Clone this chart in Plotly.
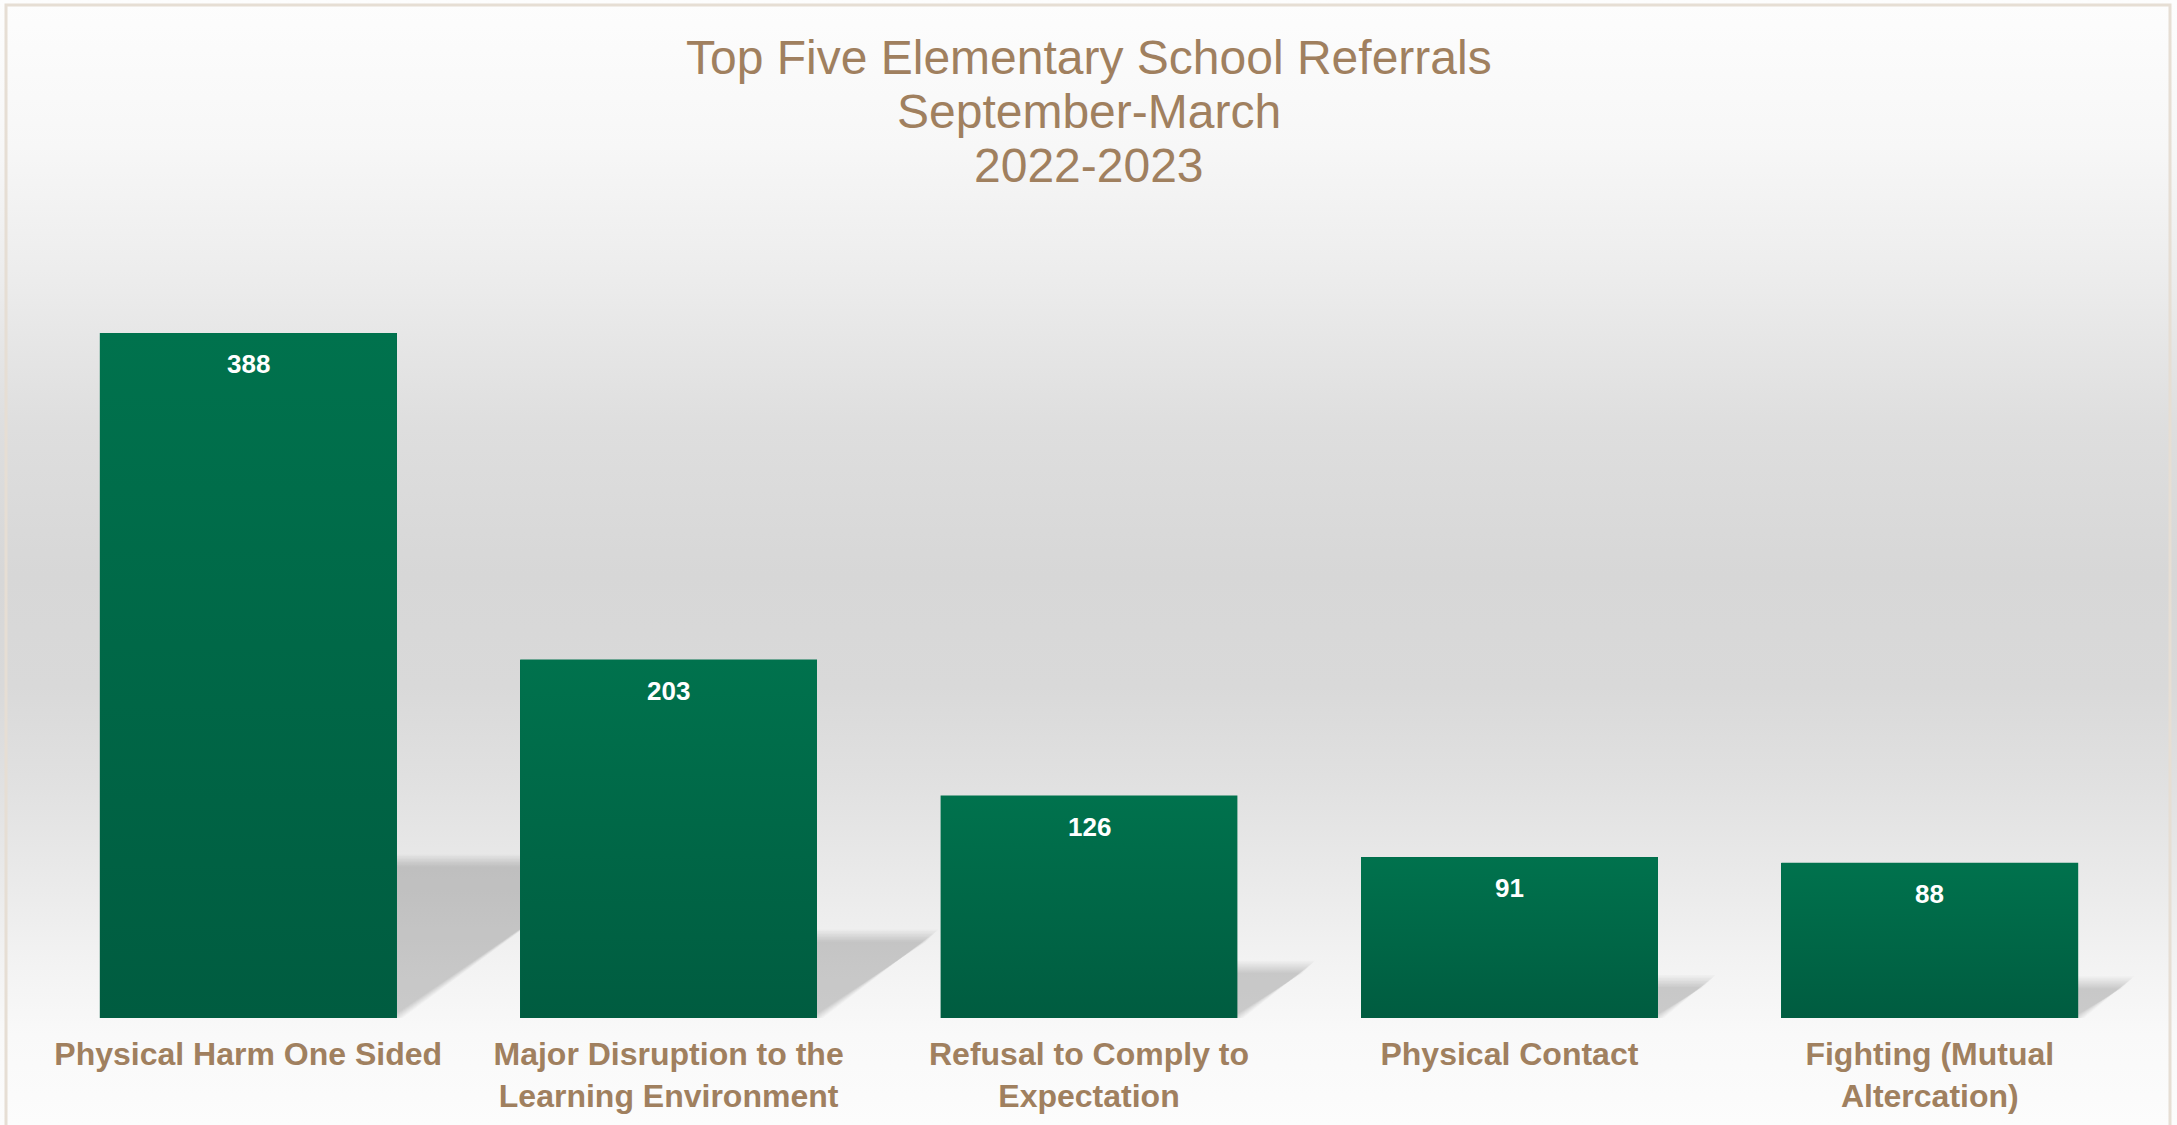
import base64
import plotly.graph_objects as go

# ---- data -------------------------------------------------------------
categories = [
    "Physical Harm One Sided",
    "Major Disruption to the<br>Learning Environment",
    "Refusal to Comply to<br>Expectation",
    "Physical Contact",
    "Fighting (Mutual<br>Altercation)",
]
referrals = [388, 203, 126, 91, 88]
title_lines = ["Top Five Elementary School Referrals", "September-March", "2022-2023"]

# ---- geometry / style -------------------------------------------------
W, H = 2177, 1125
M_L, M_R, M_T, M_B = 38, 37, 200, 107
PLOT_W = W - M_L - M_R
PLOT_H = H - M_T - M_B
Y_MAX = 463.3
BAR_W = 0.706
TAN = "#a0805f"
GREEN_TOP = "#00724d"
GREEN_BOTTOM = "#005c40"
FONT = "Liberation Sans, Arial, sans-serif"

PX_PER_X = PLOT_W / len(categories)
PX_PER_Y = PLOT_H / Y_MAX


def paper_x(px):
    return (px - M_L) / PLOT_W


def paper_y(py):
    return (H - M_B - py) / PLOT_H


idx = list(range(len(categories)))

fig = go.Figure()

# Solid bars
fig.add_trace(go.Bar(
    x=idx, y=referrals, width=BAR_W,
    marker=dict(color="#00674a", line=dict(width=0)),
    hoverinfo="skip", showlegend=False,
))

# Vertical gradient skin on each bar
for i, v in zip(idx, referrals):
    l, r = i - BAR_W / 2, i + BAR_W / 2
    fig.add_trace(go.Scatter(
        x=[l, r, r, l, l], y=[0, 0, v, v, 0],
        mode="lines", line=dict(width=0), fill="toself",
        fillgradient=dict(type="vertical",
                          colorscale=[[0, GREEN_BOTTOM], [1, GREEN_TOP]]),
        hoverinfo="skip", showlegend=False,
    ))

shapes = []

# Soft floor shadow cast to the right of each bar
N_LAYERS = 9
STEP_PX = 1.5
LAYER_ALPHA = 0.021
for i, v in zip(idx, referrals):
    l, r = i - BAR_W / 2, i + BAR_W / 2
    sh = 0.23 * v
    shift = 0.57 * v / PX_PER_X
    for k in range(-(N_LAYERS // 2), N_LAYERS // 2 + 1):
        g = k * STEP_PX
        gx = g / PX_PER_X
        top = sh + g / PX_PER_Y
        path = (f"M {l},0 L {r + gx},0 L {r + shift + gx},{top} "
                f"L {l + shift},{top} Z")
        shapes.append(dict(
            type="path", xref="x", yref="y", path=path,
            fillcolor=f"rgba(0,0,0,{LAYER_ALPHA})", line=dict(width=0),
            layer="below",
        ))

# Frame around the chart
shapes.append(dict(
    type="rect", xref="paper", yref="paper",
    x0=paper_x(6), x1=paper_x(2170), y0=paper_y(1150), y1=paper_y(5),
    line=dict(color="#e6ded4", width=3), fillcolor="rgba(0,0,0,0)",
    layer="above",
))

# Background: vertical grey gradient
stops = [(0.0, "#fdfdfd"), (0.13, "#f7f7f7"), (0.25, "#ececec"),
         (0.38, "#dedede"), (0.51, "#d7d7d7"), (0.61, "#d9d9d9"),
         (0.70, "#e1e1e1"), (0.80, "#ececec"), (0.86, "#f3f3f3"),
         (0.92, "#f9f9f9"), (1.0, "#fcfcfc")]
stop_xml = "".join(f'<stop offset="{o}" stop-color="{c}"/>' for o, c in stops)
svg = (f'<svg xmlns="http://www.w3.org/2000/svg" width="{W}" height="{H}" '
       f'viewBox="0 0 {W} {H}" preserveAspectRatio="none">'
       f'<defs><linearGradient id="g" x1="0" y1="0" x2="0" y2="1">{stop_xml}'
       f'</linearGradient></defs><rect width="{W}" height="{H}" fill="url(#g)"/></svg>')
bg_src = "data:image/svg+xml;base64," + base64.b64encode(svg.encode()).decode()

annotations = []
# Value labels inside the top of each bar
for i, v in zip(idx, referrals):
    annotations.append(dict(
        x=i, y=v, xref="x", yref="y", text=str(v), showarrow=False,
        yanchor="middle", yshift=-31,
        font=dict(family=FONT, size=26, color="white", weight="bold"),
    ))

# Three-line title
title_y_px = [58, 111, 166]
for line, ypx in zip(title_lines, title_y_px):
    annotations.append(dict(
        x=paper_x(1089), y=paper_y(ypx), xref="paper", yref="paper",
        text=line, showarrow=False, xanchor="center", yanchor="middle",
        font=dict(family=FONT, size=48, color=TAN),
    ))

fig.update_layout(
    width=W, height=H,
    margin=dict(l=M_L, r=M_R, t=M_T, b=M_B, pad=0, autoexpand=False),
    paper_bgcolor="white", plot_bgcolor="rgba(0,0,0,0)",
    showlegend=False, bargap=0,
    images=[dict(source=bg_src, xref="paper", yref="paper",
                 x=paper_x(0), y=paper_y(0), sizex=W / PLOT_W, sizey=H / PLOT_H,
                 xanchor="left", yanchor="top", sizing="stretch", layer="below")],
    shapes=shapes,
    annotations=annotations,
    xaxis=dict(range=[-0.5, len(categories) - 0.5], tickmode="array",
               tickvals=idx, ticktext=categories, showgrid=False,
               zeroline=False, showline=False, ticks="", ticklabelstandoff=14,
               automargin=False,
               tickfont=dict(family=FONT, size=32, color=TAN, weight="bold"),
               fixedrange=True),
    yaxis=dict(range=[0, Y_MAX], visible=False, fixedrange=True,
               automargin=False),
)

fig.write_html("out.html")
